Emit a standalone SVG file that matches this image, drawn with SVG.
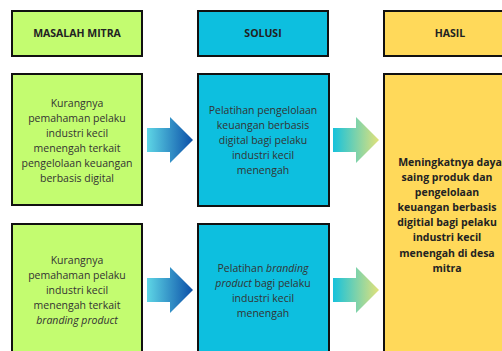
<svg xmlns="http://www.w3.org/2000/svg" width="502" height="351" viewBox="0 0 502 351">
<style>
.box{stroke:#111;stroke-width:2}
.g{fill:#C3FC70}
.b{fill:#0DBFDF}
.y{fill:#FFD95A}
.h{font-family:"Open Sans","DejaVu Sans",sans-serif;font-size:10.5px;font-weight:bold;fill:#222;text-anchor:middle}
.t{font-family:"Open Sans","DejaVu Sans",sans-serif;font-size:10.5px;fill:#333;text-anchor:middle}
.tb{font-family:"Open Sans","DejaVu Sans",sans-serif;font-size:10.5px;font-weight:bold;fill:#222;text-anchor:middle}
</style>
<defs>
<linearGradient id="ab" x1="0" x2="1" y1="0" y2="0">
<stop offset="0" stop-color="#5ED6E6"/>
<stop offset="1" stop-color="#0B4FA8"/>
</linearGradient>
<linearGradient id="ag" x1="0" x2="1" y1="0" y2="0">
<stop offset="0" stop-color="#16C2DC"/>
<stop offset="1" stop-color="#E2E27A"/>
</linearGradient>
<path id="arr" d="M0,11 H23 V0 L46,23 L23,46 V35 H0 Z"/>
</defs>
<rect width="502" height="351" fill="#fff"/>
<g id="connectors">
<use href="#arr" x="147" y="117" fill="url(#ab)"/>
<use href="#arr" x="147" y="267" fill="url(#ab)"/>
<use href="#arr" x="333" y="117" fill="url(#ag)"/>
<use href="#arr" x="333" y="267" fill="url(#ag)"/>
</g>
<g id="h-masalah">
<rect class="box g" x="12" y="11" width="130" height="45"/>
<text class="h" x="77" y="37">MASALAH MITRA</text>
</g>
<g id="h-solusi">
<rect class="box b" x="198" y="11" width="130" height="45"/>
<text class="h" x="263" y="37">SOLUSI</text>
</g>
<g id="h-hasil">
<rect class="box y" x="384" y="11" width="132" height="45"/>
<text class="h" x="450" y="37">HASIL</text>
</g>
<g id="masalah1">
<rect class="box g" x="12" y="74" width="130" height="131"/>
<text class="t"><tspan x="77" y="107">Kurangnya</tspan><tspan x="77" y="122">pemahaman pelaku</tspan><tspan x="77" y="137">industri kecil</tspan><tspan x="77" y="152">menengah terkait</tspan><tspan x="77" y="167">pengelolaan keuangan</tspan><tspan x="77" y="182">berbasis digital</tspan></text>
</g>
<g id="solusi1">
<rect class="box b" x="198" y="74" width="131" height="132"/>
<text class="t"><tspan x="263" y="114">Pelatihan pengelolaan</tspan><tspan x="263" y="129">keuangan berbasis</tspan><tspan x="263" y="144">digital  bagi  pelaku</tspan><tspan x="263" y="159">industri kecil</tspan><tspan x="263" y="174">menengah</tspan></text>
</g>
<g id="hasil">
<rect class="box y" x="384" y="74" width="132" height="290"/>
<text class="tb"><tspan x="450" y="166">Meningkatnya daya</tspan><tspan x="447" y="181">saing produk dan</tspan><tspan x="447" y="196">pengelolaan</tspan><tspan x="447" y="211">keuangan berbasis</tspan><tspan x="447" y="226">digitial bagi pelaku</tspan><tspan x="447" y="241">industri kecil</tspan><tspan x="447" y="257">menengah di desa</tspan><tspan x="447" y="272">mitra</tspan></text>
</g>
<g id="masalah2">
<rect class="box g" x="12" y="224" width="130" height="140"/>
<text class="t"><tspan x="77" y="264">Kurangnya</tspan><tspan x="77" y="279">pemahaman pelaku</tspan><tspan x="77" y="294">industri kecil</tspan><tspan x="77" y="309">menengah terkait</tspan><tspan x="77" y="324" font-style="italic">branding product</tspan></text>
</g>
<g id="solusi2">
<rect class="box b" x="198" y="224" width="131" height="140"/>
<text class="t"><tspan x="263" y="272">Pelatihan  <tspan font-style="italic">branding</tspan></tspan><tspan x="263" y="287"><tspan font-style="italic">product</tspan> bagi  pelaku</tspan><tspan x="263" y="302">industri kecil</tspan><tspan x="263" y="317">menengah</tspan></text>
</g>
</svg>
